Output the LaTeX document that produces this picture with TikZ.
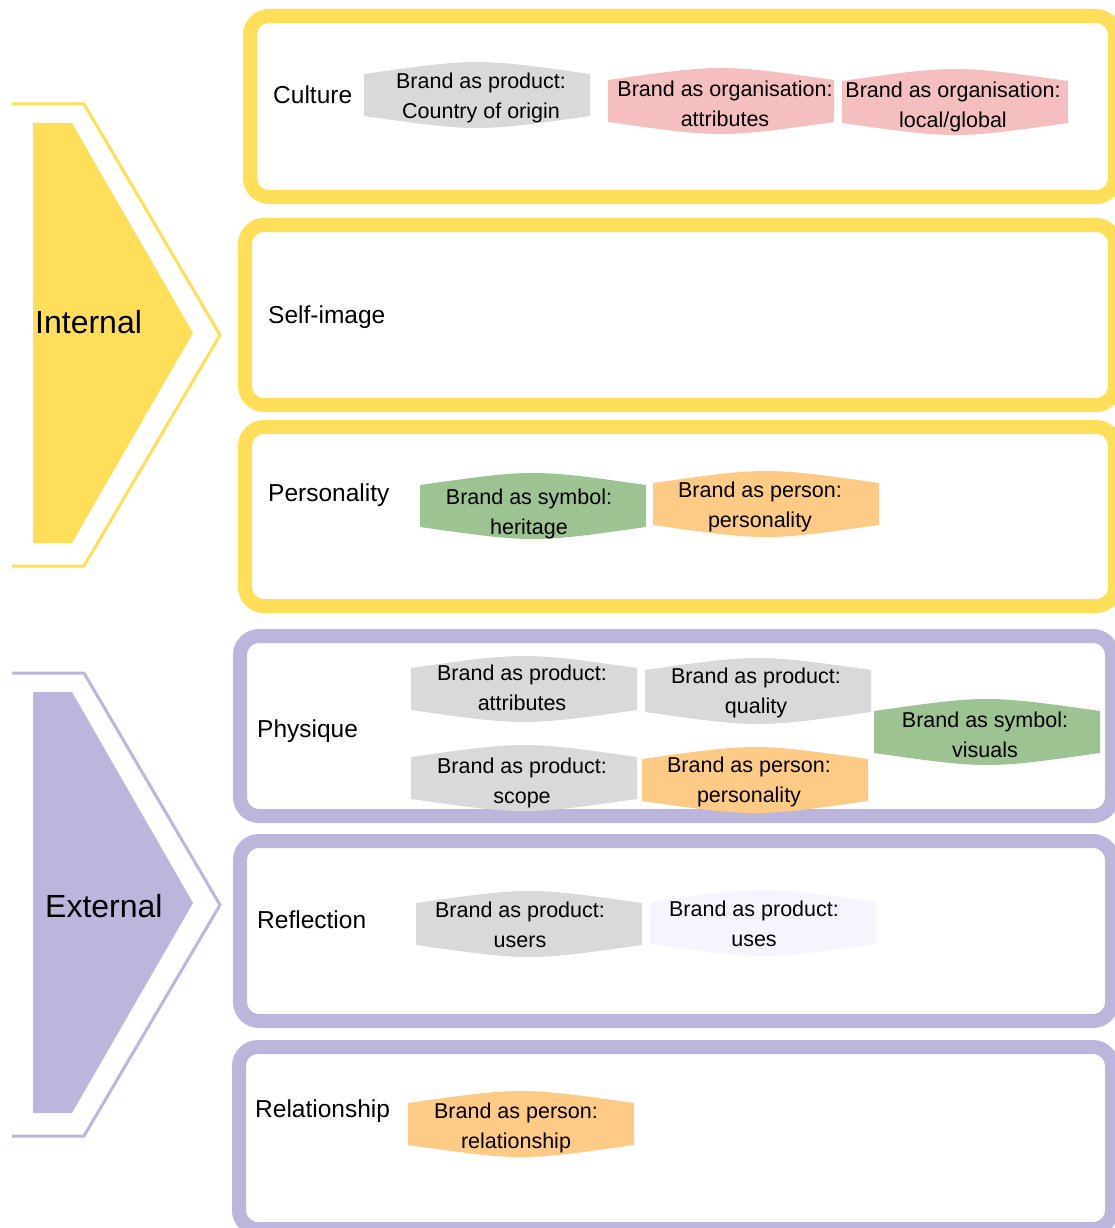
\documentclass[tikz,border=0pt]{standalone}
\usepackage{fontspec}
\setmainfont{Liberation Sans}

\definecolor{inYellow}{RGB}{255,222,89}
\definecolor{exLavender}{RGB}{189,182,220}
\definecolor{tagGray}{RGB}{217,217,217}
\definecolor{tagPink}{RGB}{245,191,192}
\definecolor{tagGreen}{RGB}{158,195,147}
\definecolor{tagOrange}{RGB}{253,203,133}
\definecolor{tagPale}{RGB}{246,244,253}

\tikzset{
  frame/.style={line width=14pt, rounded corners=19pt},
  chevronline/.style={line width=3pt, line join=miter},
  tagtext/.style={anchor=base, inner sep=0pt, font=\fontsize{21.5}{25}\selectfont},
  rowlabel/.style={anchor=base west, inner sep=0pt, font=\fontsize{24.5}{29}\selectfont},
  sidelabel/.style={anchor=base west, inner sep=0pt, font=\fontsize{32}{38}\selectfont},
}

% barrel-shaped tag: name, centre x, centre y, fill, text x, first baseline, line 1, line 2
\newcommand{\brandtag}[8]{%
  \fill[#4] (#2-113,#3-21) .. controls (#2,#3-37) .. (#2+113,#3-21)
    -- (#2+113,#3+21) .. controls (#2,#3+37) .. (#2-113,#3+21) -- cycle;
  \node[tagtext] (#1a) at (#5,#6) {#7};
  \node[tagtext] (#1b) at (#5,#6+30) {#8};
}

\begin{document}
\begin{tikzpicture}[x=1pt,y=-1pt]
\useasboundingbox (0,0) rectangle (1115,1228);

% side chevrons
\fill[inYellow] (33,123) -- (72,123) -- (193,333) -- (72,543) -- (33,543) -- cycle;
\draw[inYellow, chevronline] (12,104) -- (84,104) -- (220,335) -- (84,566) -- (12,566);
\node[sidelabel] (internal) at (35,333) {Internal};

\fill[exLavender] (33,692) -- (72,692) -- (193,903) -- (72,1113) -- (33,1113) -- cycle;
\draw[exLavender, chevronline] (12,673) -- (84,673) -- (220,905) -- (84,1136) -- (12,1136);
\node[sidelabel] (external) at (45,917) {External};

% frames
\draw[inYellow, frame] (250,16) rectangle (1115,197);
\draw[inYellow, frame] (245,225) rectangle (1115,405);
\draw[inYellow, frame] (245,427) rectangle (1115,606);
\draw[exLavender, frame] (240,636) rectangle (1112,816);
\draw[exLavender, frame] (240,841) rectangle (1112,1021);
\draw[exLavender, frame] (239,1047) rectangle (1112,1229);

% row labels
\node[rowlabel] (culture) at (273,104) {Culture};
\node[rowlabel] (selfimage) at (268,323) {Self-image};
\node[rowlabel] (personality) at (268,501) {Personality};
\node[rowlabel] (physique) at (257,737) {Physique};
\node[rowlabel] (reflection) at (257,928) {Reflection};
\node[rowlabel] (relationship) at (255,1117) {Relationship};

% tags
\brandtag{origin}{477}{95}{tagGray}{481}{89}{Brand as product:}{Country of origin}
\brandtag{orgattr}{721}{101}{tagPink}{725}{97}{Brand as organisation:}{attributes}
\brandtag{orglocal}{955}{102}{tagPink}{953}{98}{Brand as organisation:}{local/global}

\brandtag{heritage}{533}{506}{tagGreen}{529}{504}{Brand as symbol:}{heritage}
\brandtag{persona}{766}{504}{tagOrange}{760}{497}{Brand as person:}{personality}

\brandtag{prodattr}{524}{689}{tagGray}{522}{680}{Brand as product:}{attributes}
\brandtag{quality}{758}{691}{tagGray}{756}{683}{Brand as product:}{quality}
\brandtag{visuals}{987}{732}{tagGreen}{985}{727}{Brand as symbol:}{visuals}
\brandtag{scope}{524}{778}{tagGray}{522}{773}{Brand as product:}{scope}
\brandtag{persontwo}{755}{780}{tagOrange}{749}{772}{Brand as person:}{personality}

\brandtag{users}{529}{924}{tagGray}{520}{917}{Brand as product:}{users}
\brandtag{uses}{763}{923}{tagPale}{754}{916}{Brand as product:}{uses}

\brandtag{relate}{521}{1124}{tagOrange}{516}{1118}{Brand as person:}{relationship}
\end{tikzpicture}
\end{document}
